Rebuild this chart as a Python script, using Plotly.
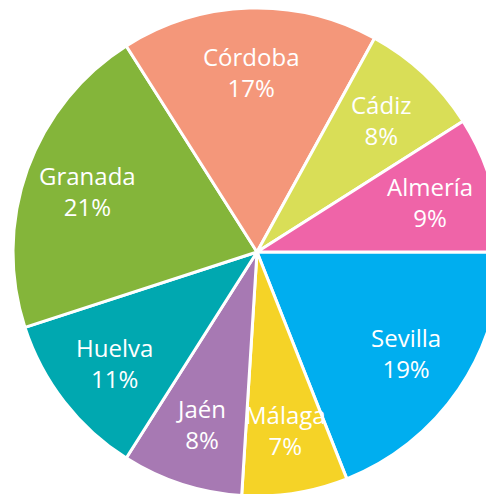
import math
import plotly.graph_objects as go

labels = ["Sevilla", "Málaga", "Jaén", "Huelva", "Granada", "Córdoba", "Cádiz", "Almería"]
values = [19, 7, 8, 11, 21, 17, 8, 9]
colors = ["#00AEEF", "#F5D327", "#A779B3", "#00A8B0", "#84B53A", "#F4977A", "#D9DE57", "#EF64A8"]

W, H = 514, 504
ML, MT = 13, 8
PW = W - 2 * ML
PH = H - 2 * MT

fig = go.Figure(go.Pie(
    labels=labels,
    values=values,
    marker=dict(colors=colors, line=dict(color="white", width=3)),
    sort=False,
    direction="clockwise",
    rotation=90,
    textinfo="none",
    hoverinfo="label+percent",
    showlegend=False,
    domain=dict(x=[0, 1], y=[0, 1]),
))

total = sum(values)
cum = 0
annotations = []
frac = 0.74
for lab, v in zip(labels, values):
    theta = 2 * math.pi * (cum + v / 2) / total
    cum += v
    x = 0.5 + 0.5 * frac * math.cos(theta)
    y = 0.5 - 0.5 * frac * math.sin(theta)
    pct = round(100 * v / total)
    annotations.append(dict(
        x=x, y=y, xref="paper", yref="paper",
        text=f"{lab}<br>{pct}%", showarrow=False,
        xanchor="center", yanchor="middle",
        font=dict(family="Open Sans", size=24, color="white"),
    ))

fig.update_layout(
    width=W, height=H,
    margin=dict(l=ML, r=ML, t=MT, b=MT, pad=0),
    paper_bgcolor="white", plot_bgcolor="white",
    annotations=annotations,
)

fig.write_html(
    "out.html",
    post_script="document.body.style.margin='0';document.body.style.overflow='hidden';document.documentElement.style.overflow='hidden';",
)
